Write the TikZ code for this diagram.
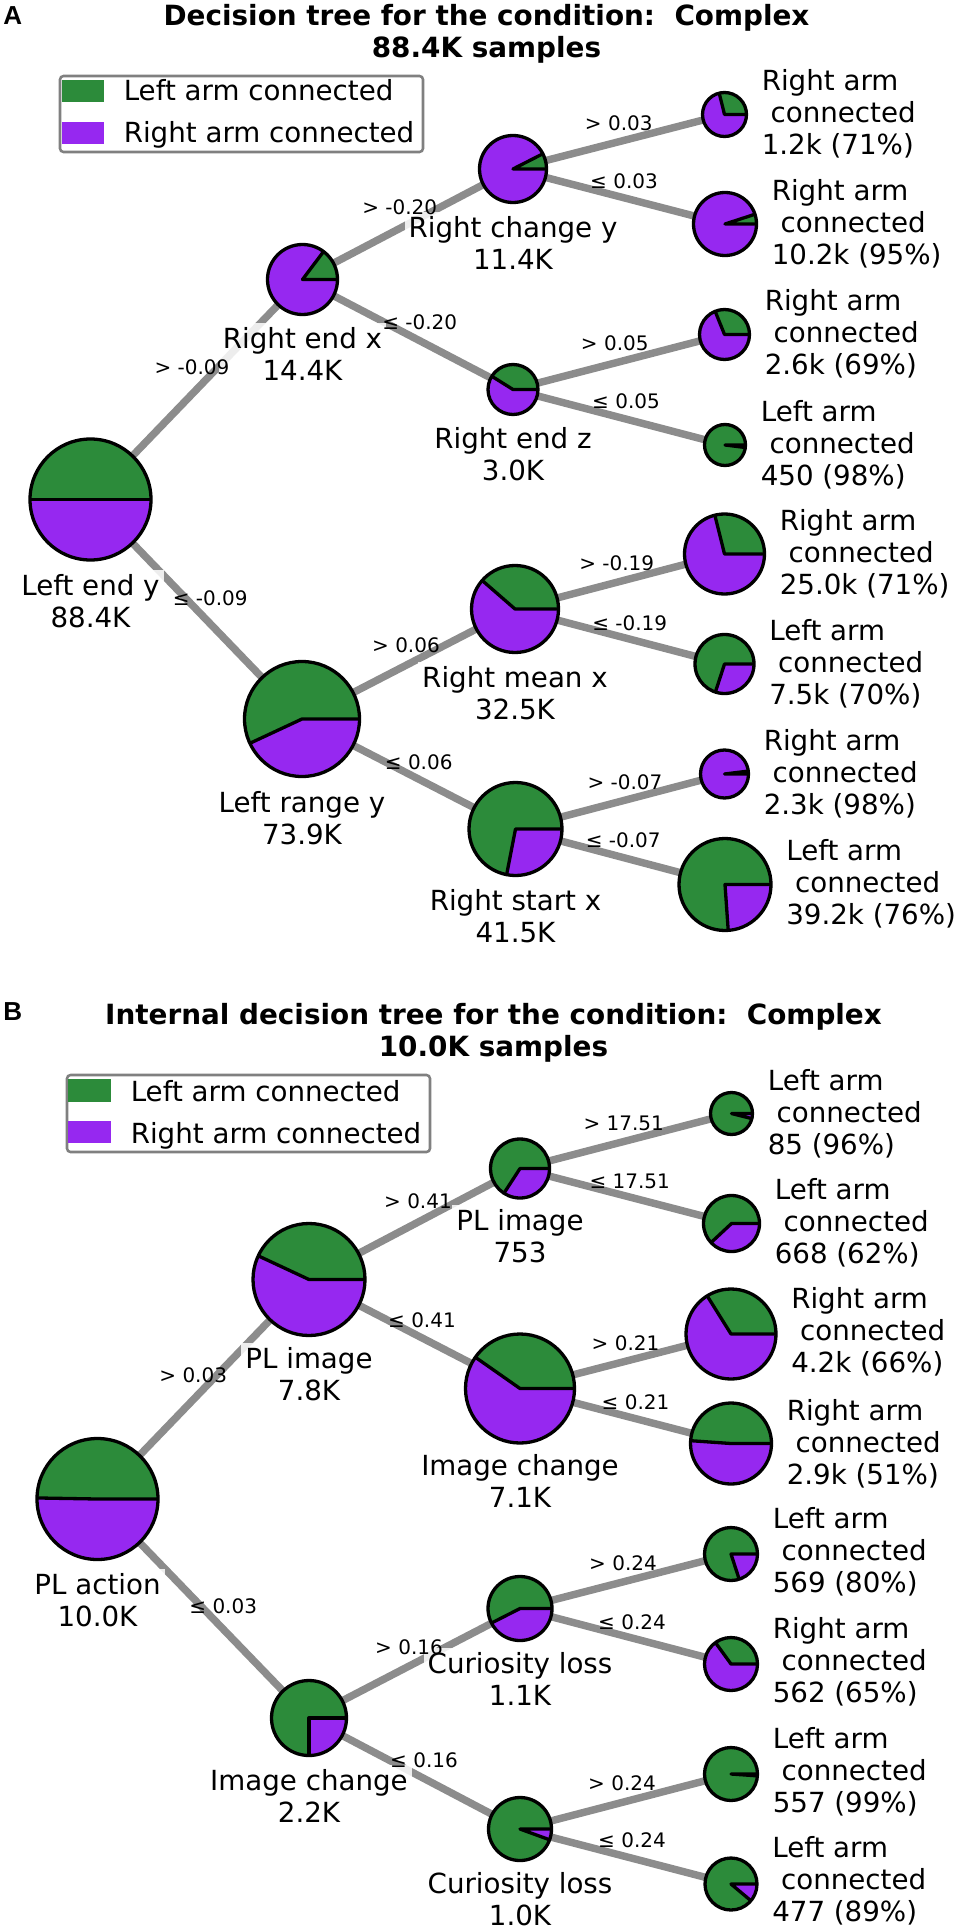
\documentclass[tikz,border=0pt]{standalone}
\usepackage{fontspec}
\setmainfont{DejaVu Sans}
\newfontfamily\dttagfont{Liberation Sans}
\usepackage{tikz}
\definecolor{DtGreen}{RGB}{44,139,58}
\definecolor{DtPurple}{RGB}{150,40,240}
\definecolor{DtEdge}{RGB}{140,140,140}
\definecolor{DtFrame}{RGB}{128,128,128}
\newcommand{\dtfont}{\fontsize{19.7pt}{22.8pt}\selectfont}
\newcommand{\dtsmall}{\fontsize{14.2pt}{17pt}\selectfont}
\newcommand{\dtlead}{\hspace*{0.318em}}
\tikzset{
  dt/edge/.style={draw=DtEdge, line width=5.3pt},
  dt/wedge/.style={draw=black, line width=2.35pt, line join=round},
  dt/split/.style={font=\dtsmall, inner sep=0pt, midway},
  dt/label/.style={
    font=\dtfont,
    align=center,
    anchor=north,
    fill=white,
    fill opacity=0.85,
    text opacity=1,
    inner xsep=2.8pt,
    inner ysep=2.8pt
  },
  dt/leaf/.style={font=\dtfont, align=left, anchor=north west, inner sep=0pt},
  dt/title/.style={font={\fontsize{19.8pt}{22.8pt}\selectfont\bfseries}, align=center, anchor=north, inner sep=0pt},
  dt/tag/.style={font={\dttagfont\bfseries\fontsize{18.5pt}{22pt}\selectfont}, anchor=base west, inner sep=0pt},
  dt/legendtext/.style={font=\dtfont, anchor=base west, inner sep=0pt},
  dt/frame/.style={draw=DtFrame, line width=1.8pt, rounded corners=2.5pt, fill=white}
}
\newcommand{\dtpie}[3]{%
  \fill[DtGreen] (#1) -- ++(0:{#2-1.5}) arc[start angle=0, end angle=#3, radius={#2-1.5}] -- cycle;
  \fill[DtPurple] (#1) -- ++(#3:{#2-1.5}) arc[start angle=#3, end angle=360, radius={#2-1.5}] -- cycle;
  \draw[dt/wedge] (#1) ++(0:{#2-1.5}) -- (#1) -- ++(#3:{#2-1.5});
  \draw[dt/wedge] (#1) circle[radius={#2-1.5}];
}

\begin{document}
\begin{tikzpicture}[x=0.025cm,y=0.025cm]
  \useasboundingbox (0,0) rectangle (960,-1930);

  \node[dt/tag] (tagA) at (3,-25) {A};
  \node[dt/title] (titleA) at (486.5,-4) {Decision tree for the condition:\ \ Complex\\88.4K samples};
  \draw[dt/frame] (60,-76) rectangle (423,-152);
  \fill[DtGreen] (62,-80) rectangle (104,-102);
  \fill[DtPurple] (62,-122) rectangle (104,-144);
  \node[dt/legendtext] (legAleft) at (123.5,-101) {Left arm connected};
  \node[dt/legendtext] (legAright) at (123.5,-143) {Right arm connected};

  \coordinate (rootA) at (90.5,-499.5);
  \coordinate (rexA) at (302.5,-279.5);
  \coordinate (lryA) at (302,-719);
  \coordinate (rcyA) at (513,-169);
  \coordinate (rezA) at (513,-389.5);
  \coordinate (rmxA) at (515,-609);
  \coordinate (rsxA) at (515.5,-829);
  \coordinate (leafA1) at (724.5,-114.5);
  \coordinate (leafA2) at (725,-224);
  \coordinate (leafA3) at (724.5,-334.5);
  \coordinate (leafA4) at (725,-445);
  \coordinate (leafA5) at (724.5,-554);
  \coordinate (leafA6) at (724.5,-664);
  \coordinate (leafA7) at (724.5,-774);
  \coordinate (leafA8) at (725,-884.5);

  \node[dt/tag] (tagB) at (3,-1020) {B};
  \node[dt/title] (titleB) at (493.5,-1003) {Internal decision tree for the condition:\ \ Complex\\10.0K samples};
  \draw[dt/frame] (67,-1075) rectangle (430,-1152);
  \fill[DtGreen] (68,-1079) rectangle (111,-1102);
  \fill[DtPurple] (68,-1121) rectangle (111,-1143);
  \node[dt/legendtext] (legBleft) at (130.5,-1101) {Left arm connected};
  \node[dt/legendtext] (legBright) at (130.5,-1143) {Right arm connected};

  \coordinate (rootB) at (97.5,-1499);
  \coordinate (pliB) at (309,-1279.5);
  \coordinate (icB) at (309,-1718);
  \coordinate (pl2B) at (520,-1168.5);
  \coordinate (ic2B) at (520,-1388.5);
  \coordinate (cl1B) at (520,-1608.5);
  \coordinate (cl2B) at (520,-1829);
  \coordinate (leafB1) at (731.5,-1113.5);
  \coordinate (leafB2) at (731.5,-1223.5);
  \coordinate (leafB3) at (731,-1334);
  \coordinate (leafB4) at (731,-1443.5);
  \coordinate (leafB5) at (731,-1554);
  \coordinate (leafB6) at (731,-1664);
  \coordinate (leafB7) at (731,-1774);
  \coordinate (leafB8) at (731,-1884);

  \foreach \from/\to in {rootA/rexA, rootA/lryA, rexA/rcyA, rexA/rezA, rcyA/leafA1, rcyA/leafA2,
      rezA/leafA3, rezA/leafA4, lryA/rmxA, lryA/rsxA, rmxA/leafA5, rmxA/leafA6, rsxA/leafA7, rsxA/leafA8,
      rootB/pliB, rootB/icB, pliB/pl2B, pliB/ic2B, pl2B/leafB1, pl2B/leafB2, ic2B/leafB3, ic2B/leafB4,
      icB/cl1B, icB/cl2B, cl1B/leafB5, cl1B/leafB6, cl2B/leafB7, cl2B/leafB8}
    \draw[dt/edge] (\from) -- (\to);

  \foreach \nm/\rad/\ang in {rootA/62/180, rexA/36.5/53, lryA/59/205, rcyA/35/27, rezA/26.5/148,
      rmxA/45/139, rsxA/48/259, leafA1/23.5/104, leafA2/33/18, leafA3/26.5/112, leafA4/22/353,
      leafA5/41.5/104, leafA6/31/252, leafA7/25.5/7, leafA8/47.5/274,
      rootB/62/179, pliB/57.5/155, icB/39/270, pl2B/31/237, ic2B/56/145, cl1B/33.5/207, cl2B/33/340,
      leafB1/22.5/346, leafB2/29.5/223, leafB3/46.5/122, leafB4/42/176, leafB5/28/288,
      leafB6/28/126, leafB7/28/356, leafB8/27.5/320}
    {\dtpie{\nm}{\rad}{\ang}}

  \node[dt/label] (rootAtxt) at (90.5,-570) {Left end y\\88.4K};
  \node[dt/label] (rexAtxt) at (302.5,-323) {Right end x\\14.4K};
  \node[dt/label] (lryAtxt) at (302,-787) {Left range y\\73.9K};
  \node[dt/label] (rcyAtxt) at (513,-212) {Right change y\\11.4K};
  \node[dt/label] (rezAtxt) at (513,-423) {Right end z\\3.0K};
  \node[dt/label] (rmxAtxt) at (515,-662) {Right mean x\\32.5K};
  \node[dt/label] (rsxAtxt) at (515.5,-885) {Right start x\\41.5K};
  \node[dt/label] (rootBtxt) at (97.5,-1569) {PL action\\10.0K};
  \node[dt/label] (pliBtxt) at (309,-1343) {PL image\\7.8K};
  \node[dt/label] (icBtxt) at (309,-1765) {Image change\\2.2K};
  \node[dt/label] (pl2Btxt) at (520,-1205) {PL image\\753};
  \node[dt/label] (ic2Btxt) at (520,-1450) {Image change\\7.1K};
  \node[dt/label] (cl1Btxt) at (520,-1648) {Curiosity loss\\1.1K};
  \node[dt/label] (cl2Btxt) at (520,-1868) {Curiosity loss\\1.0K};

  \node[dt/leaf] (leafA1txt) at (761.5,-69) {Right arm\\\dtlead connected\\1.2k (71\%)};
  \node[dt/leaf] (leafA2txt) at (771.5,-179) {Right arm\\\dtlead connected\\10.2k (95\%)};
  \node[dt/leaf] (leafA3txt) at (764.5,-289) {Right arm\\\dtlead connected\\2.6k (69\%)};
  \node[dt/leaf] (leafA4txt) at (760.5,-400) {Left arm\\\dtlead connected\\450 (98\%)};
  \node[dt/leaf] (leafA5txt) at (779.5,-509) {Right arm\\\dtlead connected\\25.0k (71\%)};
  \node[dt/leaf] (leafA6txt) at (769,-619) {Left arm\\\dtlead connected\\7.5k (70\%)};
  \node[dt/leaf] (leafA7txt) at (763.5,-729) {Right arm\\\dtlead connected\\2.3k (98\%)};
  \node[dt/leaf] (leafA8txt) at (786,-839) {Left arm\\\dtlead connected\\39.2k (76\%)};
  \node[dt/leaf] (leafB1txt) at (767.5,-1069) {Left arm\\\dtlead connected\\85 (96\%)};
  \node[dt/leaf] (leafB2txt) at (774.5,-1178) {Left arm\\\dtlead connected\\668 (62\%)};
  \node[dt/leaf] (leafB3txt) at (791,-1287) {Right arm\\\dtlead connected\\4.2k (66\%)};
  \node[dt/leaf] (leafB4txt) at (786.5,-1399) {Right arm\\\dtlead connected\\2.9k (51\%)};
  \node[dt/leaf] (leafB5txt) at (772.5,-1507) {Left arm\\\dtlead connected\\569 (80\%)};
  \node[dt/leaf] (leafB6txt) at (772.5,-1617) {Right arm\\\dtlead connected\\562 (65\%)};
  \node[dt/leaf] (leafB7txt) at (772.5,-1727) {Left arm\\\dtlead connected\\557 (99\%)};
  \node[dt/leaf] (leafB8txt) at (772,-1836) {Left arm\\\dtlead connected\\477 (89\%)};

  \foreach \from/\to/\cut/\dx/\dy in {
      rootA/rexA/{> -0.09}/-4.5/22.5, rootA/lryA/{≤ -0.09}/14/11,
      rexA/rcyA/{> -0.20}/-8/17, rexA/rezA/{≤ -0.20}/12/12.5,
      rcyA/leafA1/{> 0.03}/0/19, rcyA/leafA2/{≤ 0.03}/5/15.5,
      rezA/leafA3/{> 0.05}/-4/19, rezA/leafA4/{≤ 0.05}/7/16,
      lryA/rmxA/{> 0.06}/-2.5/19, lryA/rsxA/{≤ 0.06}/10/12,
      rmxA/leafA5/{> -0.19}/-3/18.5, rmxA/leafA6/{≤ -0.19}/10/13.5,
      rsxA/leafA7/{> -0.07}/5/19.5, rsxA/leafA8/{≤ -0.07}/3/17,
      rootB/pliB/{> 0.03}/-10/14, rootB/icB/{≤ 0.03}/20/2.5,
      pliB/pl2B/{> 0.41}/3.5/23, pliB/ic2B/{≤ 0.41}/7.5/14,
      pl2B/leafB1/{> 17.51}/-2/18, pl2B/leafB2/{≤ 17.51}/4/15,
      ic2B/leafB3/{> 0.21}/0/18, ic2B/leafB4/{≤ 0.21}/10/14,
      icB/cl1B/{> 0.16}/-5.5/16, icB/cl2B/{≤ 0.16}/9.5/13.5,
      cl1B/leafB5/{> 0.24}/-2.5/18, cl1B/leafB6/{≤ 0.24}/6.5/14,
      cl2B/leafB7/{> 0.24}/-3.5/18.5, cl2B/leafB8/{≤ 0.24}/6.5/16.5}
    \path (\from) -- node[dt/split, shift={(\dx,\dy)}] {\cut} (\to);
\end{tikzpicture}
\end{document}
